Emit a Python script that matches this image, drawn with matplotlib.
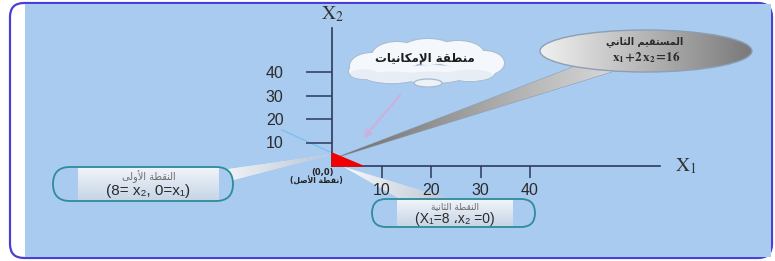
import numpy as np
import matplotlib.pyplot as plt
from matplotlib.patches import Ellipse, FancyBboxPatch, Polygon, Rectangle

plt.rcParams["mathtext.fontset"] = "stix"

# chart values
X1_TICKS = [10, 20, 30, 40]
X2_TICKS = [10, 20, 30, 40]
X1_TICK_LABELS = ["10", "20", "30", "40"]
X2_TICK_LABELS = ["10", "20", "30", "40"]
REGION_X1 = [0, 6.2, 0]
REGION_X2 = [0, 0, 5.5]

TXT_CLOUD = "منطقة الإمكانيات"
TXT_LINE2 = "المستقيم الثاني"
TXT_EQ2 = r"$\mathbf{x_1\!+\!2\,x_2\!=\!16}$"
TXT_P1 = "النقطة الأولى"
TXT_P1_VAL = "(8= x₂, 0=x₁)"
TXT_P2 = "النقطة الثانية"
TXT_P2_VAL = "(X₁=8 ،x₂ =0)"
TXT_ORIGIN = "(0,0)"
TXT_ORIGIN_AR = "نقطة الأصل"

W, H = 775, 261
BG_BLUE = "#a9cbef"

# --- tiny arabic shaper (matplotlib has no complex text layout) ---
FORMS = {
    "ا": ("\uFE8D", "\uFE8E", None, None),
    "أ": ("\uFE83", "\uFE84", None, None),
    "إ": ("\uFE87", "\uFE88", None, None),
    "ة": ("\uFE93", "\uFE94", None, None),
    "ت": ("\uFE95", "\uFE96", "\uFE97", "\uFE98"),
    "ث": ("\uFE99", "\uFE9A", "\uFE9B", "\uFE9C"),
    "س": ("\uFEB1", "\uFEB2", "\uFEB3", "\uFEB4"),
    "ص": ("\uFEB9", "\uFEBA", "\uFEBB", "\uFEBC"),
    "ط": ("\uFEC1", "\uFEC2", "\uFEC3", "\uFEC4"),
    "ق": ("\uFED5", "\uFED6", "\uFED7", "\uFED8"),
    "ك": ("\uFED9", "\uFEDA", "\uFEDB", "\uFEDC"),
    "ل": ("\uFEDD", "\uFEDE", "\uFEDF", "\uFEE0"),
    "م": ("\uFEE1", "\uFEE2", "\uFEE3", "\uFEE4"),
    "ن": ("\uFEE5", "\uFEE6", "\uFEE7", "\uFEE8"),
    "و": ("\uFEED", "\uFEEE", None, None),
    "ى": ("\uFEEF", "\uFEF0", None, None),
    "ي": ("\uFEF1", "\uFEF2", "\uFEF3", "\uFEF4"),
}
LAM_ALEF = {
    "ا": ("\uFEFB", "\uFEFC", None, None),
    "أ": ("\uFEF7", "\uFEF8", None, None),
    "إ": ("\uFEF9", "\uFEFA", None, None),
}


def shape(text):
    units = []
    i = 0
    while i < len(text):
        c = text[i]
        if c == "ل" and i + 1 < len(text) and text[i + 1] in LAM_ALEF:
            units.append(LAM_ALEF[text[i + 1]])
            i += 2
        else:
            units.append(FORMS.get(c, c))
            i += 1
    out = []
    for k, u in enumerate(units):
        if isinstance(u, str):
            out.append(u)
            continue
        prev = units[k - 1] if k > 0 else None
        nxt = units[k + 1] if k + 1 < len(units) else None
        pj = isinstance(prev, tuple) and prev[2] is not None
        nj = u[2] is not None and isinstance(nxt, tuple)
        if pj and nj:
            out.append(u[3])
        elif pj:
            out.append(u[1])
        elif nj:
            out.append(u[2])
        else:
            out.append(u[0])
    return "".join(reversed(out))


def grad_fill(ax, patch, extent, c0, c1, horizontal=True, z=2):
    n = 64
    t = np.linspace(0, 1, n)
    a = np.array(plt.matplotlib.colors.to_rgb(c0))
    b = np.array(plt.matplotlib.colors.to_rgb(c1))
    row = a[None, :] * (1 - t[:, None]) + b[None, :] * t[:, None]
    img = row[None, :, :] if horizontal else row[:, None, :]
    im = ax.imshow(img, extent=extent, origin="upper", aspect="auto",
                   interpolation="bilinear", zorder=z)
    im.set_clip_path(patch)


fig = plt.figure(figsize=(W / 100, H / 100), dpi=100)
fig.patch.set_facecolor("white")

# background / decoration layer in pixel coordinates
bg = fig.add_axes([0, 0, 1, 1])
bg.set_axis_off()

frame = FancyBboxPatch((10, 3), 762, 255, boxstyle="round,pad=0,rounding_size=14",
                       facecolor="white", edgecolor="#4a3fd6", linewidth=1.6, zorder=0)
bg.add_patch(frame)
bg.add_patch(Rectangle((25, 4), 746, 253, facecolor=BG_BLUE, edgecolor="none", zorder=0.5))

# thin light line to the left of the origin
bg.plot([282, 330], [130, 152], color="#78c0ea", lw=0.9, zorder=1)

# cloud
cloud = [(372, 66, 44, 26), (397, 56, 50, 28), (428, 52, 56, 26), (458, 54, 52, 26),
         (484, 63, 40, 24), (470, 72, 50, 18), (432, 74, 70, 18), (392, 74, 60, 18),
         (364, 71, 30, 16)]
for cx, cy, w, h in cloud:
    bg.add_patch(Ellipse((cx, cy), w, h, facecolor="none", edgecolor="#a9bdd3", lw=1.6, zorder=2))
for cx, cy, w, h in cloud:
    bg.add_patch(Ellipse((cx, cy), w, h, facecolor="#f4f7fb", edgecolor="none", zorder=2.1))
for cx, cy, w, h in cloud[5:]:
    bg.add_patch(Ellipse((cx, cy + 3), w * 0.9, h * 0.6, facecolor="#e6edf5", edgecolor="none",
                         zorder=2.15))
bg.add_patch(Ellipse((428, 83), 28, 8, facecolor="#eef2f7", edgecolor="#a9bdd3", lw=1, zorder=2.2))
bg.text(425, 58, shape(TXT_CLOUD), ha="center", va="center", fontsize=8.5,
        fontweight="bold", family="DejaVu Sans", color="#1d1d1d", zorder=3)

# arrow from cloud to region
bg.annotate("", xy=(362, 140), xytext=(402, 93),
            arrowprops=dict(arrowstyle="-|>", color="#cdb0dc", lw=1.6, mutation_scale=10),
            zorder=2)

# grey speech ellipse for the second line
tail = Polygon([(338, 157), (576, 66), (614, 71)], closed=True, facecolor="#b4b4b4",
               edgecolor="#8c9fb4", lw=0.8, zorder=2)
bg.add_patch(tail)
grad_fill(bg, tail, (338, 614, 157, 66), "#6f6f6f", "#d7d7d7", z=2.05)
ell = Ellipse((646, 51), 212, 42, facecolor="none", edgecolor="#8c9fb4", lw=1.0, zorder=2.2)
bg.add_patch(ell)
grad_fill(bg, ell, (540, 752, 72, 30), "#f0f0f0", "#7a7a7a", z=2.1)
bg.text(645, 41.5, shape(TXT_LINE2), ha="center", va="center", fontsize=7,
        family="DejaVu Sans", fontweight="bold", color="#2a2a2a", zorder=3)
bg.text(646, 57, TXT_EQ2, ha="center", va="center", fontsize=9.5, color="#2a2a2a", zorder=3)


def callout(x0, x1, y0, y1, ix0, ix1, tail_pts, line1, line2, s1, s2):
    t = Polygon(tail_pts, closed=True, facecolor="#e6ebf1", edgecolor="none", zorder=2)
    bg.add_patch(t)
    xs = [p[0] for p in tail_pts]
    ys = [p[1] for p in tail_pts]
    grad_fill(bg, t, (min(xs), max(xs), max(ys), min(ys)), "#f7f9fb", "#b9c4d2", z=2.05)
    h = y1 - y0
    st = FancyBboxPatch((x0, y0), x1 - x0, h, boxstyle=f"round,pad=0,rounding_size={h / 2}",
                        facecolor=BG_BLUE, edgecolor="#2f8c99", lw=1.3, zorder=2.2)
    bg.add_patch(st)
    inner = Rectangle((ix0, y0 + 0.8), ix1 - ix0, h - 1.6, facecolor="#dbe5f0",
                      edgecolor="none", zorder=2.3)
    bg.add_patch(inner)
    grad_fill(bg, inner, (ix0, ix1, y1, y0), "#f3f6fa", "#c5d4e6", horizontal=False, z=2.35)
    cx = (ix0 + ix1) / 2
    bg.text(cx, y0 + h * 0.28, shape(line1), ha="center", va="center", fontsize=s1,
            family="DejaVu Sans", color="#6b6b6b", zorder=3)
    bg.text(cx, y0 + h * 0.7, line2, ha="center", va="center", fontsize=s2,
            family=["Liberation Sans", "DejaVu Sans"], color="#2a2a2a", zorder=3)


callout(53, 233, 167, 201, 78, 219, [(214, 171), (329, 155), (218, 184)],
        TXT_P1, TXT_P1_VAL, 7, 11)
callout(372, 535, 199, 227, 397, 513, [(344, 167), (402, 200), (452, 200)],
        TXT_P2, TXT_P2_VAL, 6.5, 10)

# origin label
bg.text(322, 172, TXT_ORIGIN, ha="center", va="center", fontsize=6, fontweight="bold",
        family="DejaVu Sans", color="#222222", zorder=3)
bg.text(316, 181, "(" + shape(TXT_ORIGIN_AR) + ")", ha="center", va="center", fontsize=5.5,
        fontweight="bold", family="DejaVu Sans", color="#222222", zorder=3)

bg.set_xlim(0, W)
bg.set_ylim(H, 0)

# data axes: origin at pixel (332, 166)
OX, OY = 332, 166
SX, SY = 4.95, 2.35  # pixels per unit
right_px, top_px = 660, 28
ax = fig.add_axes([OX / W, (H - OY) / H, (right_px - OX) / W, (OY - top_px) / H])
ax.patch.set_alpha(0)
ax.set_xlim(0, (right_px - OX) / SX)
ax.set_ylim(0, (OY - top_px) / SY)
for s in ("top", "right"):
    ax.spines[s].set_visible(False)
axis_col = "#2d3a5a"
for s in ("left", "bottom"):
    ax.spines[s].set_color(axis_col)
    ax.spines[s].set_linewidth(1.2)
ax.set_xticks(X1_TICKS)
ax.set_xticklabels(X1_TICK_LABELS)
ax.set_yticks(X2_TICKS)
ax.set_yticklabels(X2_TICK_LABELS)
ax.tick_params(axis="x", direction="out", length=8.5, width=1.1, color=axis_col, pad=3.5,
               labelsize=11.5, labelcolor="#2b2b2b")
ax.tick_params(axis="y", direction="out", length=19, width=1.1, color=axis_col, pad=16,
               labelsize=11.5, labelcolor="#2b2b2b")
for lab in ax.get_xticklabels() + ax.get_yticklabels():
    lab.set_family("Liberation Sans")

ax.fill(REGION_X1, REGION_X2, color="#f00000", zorder=5, clip_on=False)

ax.text(0, 1.03, r"$\mathrm{X}_2$", transform=ax.transAxes, ha="center", va="bottom",
        fontsize=14, color="#333333")
ax.text(1.045, 0, r"$\mathrm{X}_1$", transform=ax.transAxes, ha="left", va="center",
        fontsize=14, color="#333333")

fig.savefig("out.png", dpi=100)
